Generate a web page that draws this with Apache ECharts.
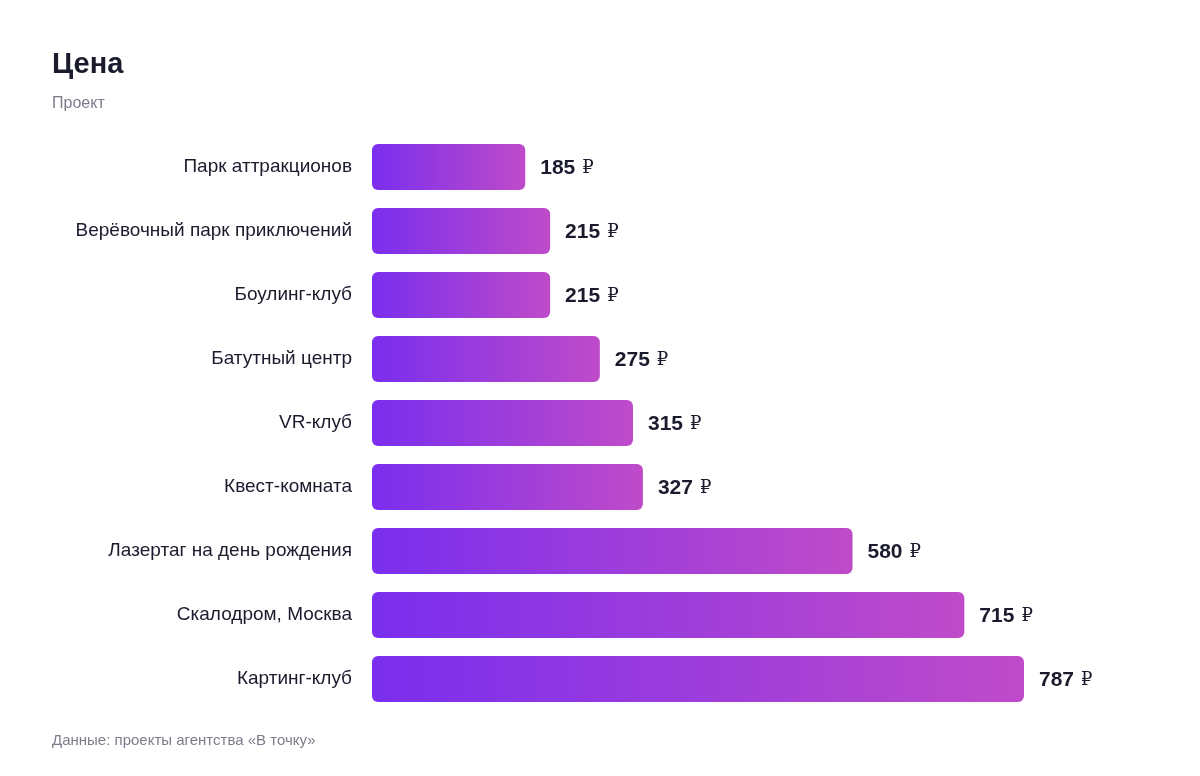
<!DOCTYPE html>
<html lang="ru">
<head>
    <meta charset="UTF-8">
    <title>Цена</title>
    <script src="https://cdn.jsdelivr.net/npm/echarts@6/dist/echarts.min.js"></script>
    <style>
        html, body { margin: 0; padding: 0; background: #fff; }
        #chart { width: 1200px; height: 776px; }
    </style>
</head>
<body>
    <div id="chart"></div>
<script>
    // данные
    var categories = [
        'Парк аттракционов',
        'Верёвочный парк приключений',
        'Боулинг-клуб',
        'Батутный центр',
        'VR-клуб',
        'Квест-комната',
        'Лазертаг на день рождения',
        'Скалодром, Москва',
        'Картинг-клуб'
    ];
    var prices = [185, 215, 215, 275, 315, 327, 580, 715, 787];

    var font = 'Arial';

    var chart = echarts.init(document.getElementById('chart'));
    chart.setOption({
        backgroundColor: '#ffffff',
        title: [
            {
                text: 'Цена',
                left: 52, top: 50, padding: 0,
                textStyle: { fontFamily: font, fontSize: 29, fontWeight: 'bold', color: '#1b1b2e' }
            },
            {
                text: 'Проект',
                left: 52, top: 96, padding: 0,
                textStyle: { fontFamily: font, fontSize: 16, fontWeight: 'normal', color: '#7c7c8c' }
            },
            {
                text: 'Данные: проекты агентства «В точку»',
                left: 52, top: 733, padding: 0,
                textStyle: { fontFamily: font, fontSize: 15, fontWeight: 'normal', color: '#7c7c8c' }
            }
        ],
        grid: { left: 372, top: 135, width: 652, height: 576, containLabel: false },
        xAxis: {
            type: 'value',
            min: 0,
            max: 'dataMax',
            show: false
        },
        yAxis: {
            type: 'category',
            inverse: true,
            data: categories,
            axisLine: { show: false },
            axisTick: { show: false },
            axisLabel: {
                margin: 20,
                fontFamily: font,
                fontSize: 19,
                color: '#1b1b2e',
                padding: [3, 0, 0, 0]
            }
        },
        series: [{
            type: 'bar',
            data: prices,
            barWidth: 46,
            itemStyle: {
                borderRadius: 6,
                color: new echarts.graphic.LinearGradient(0, 0, 1, 0, [
                    { offset: 0, color: '#7a2eee' },
                    { offset: 1, color: '#bf4bc9' }
                ])
            },
            label: {
                show: true,
                position: 'right',
                distance: 15,
                offset: [0, 1],
                formatter: function (p) { return '{n|' + p.value + '}{r|₽}'; },
                rich: {
                    n: { fontFamily: font, fontSize: 21, fontWeight: 'bold', color: '#1b1b2e' },
                    r: { fontFamily: 'DejaVu Serif', fontSize: 18, fontWeight: 'normal', color: '#1b1b2e', padding: [0, 0, 0, 7] }
                }
            },
            animation: false
        }]
    });
    window.onresize = chart.resize;
</script>
</body>
</html>
